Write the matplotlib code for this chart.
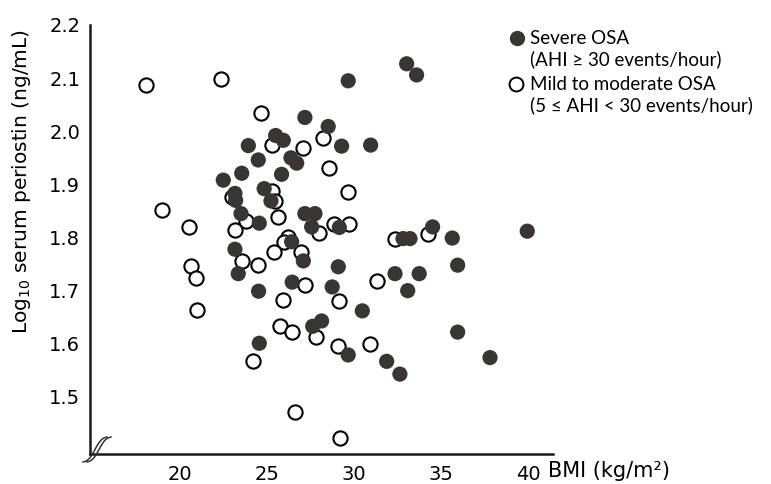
import numpy as np
import matplotlib
matplotlib.use("Agg")
import matplotlib.pyplot as plt
from matplotlib.lines import Line2D

plt.rcParams['font.family'] = ['DejaVu Sans']
plt.rcParams['mathtext.fontset'] = 'dejavusans'

# severe OSA (AHI >= 30), filled markers
severe_bmi = [33.03, 33.60, 29.67, 27.18, 28.52, 25.50, 25.94, 23.93, 29.29, 30.96,
              24.50, 26.38, 26.71, 23.55, 25.84, 22.49, 24.84, 23.16, 23.20, 25.23,
              23.51, 24.56, 27.18, 27.76, 27.57, 29.16, 32.82, 33.22, 34.52, 35.65,
              39.96, 26.42, 27.09, 23.16, 23.35, 29.10, 32.36, 33.75, 35.96, 33.09,
              26.45, 28.75, 24.52, 30.48, 27.63, 28.14, 29.67, 31.88, 32.64, 35.96,
              37.82, 24.56]
severe_post = [2.127, 2.106, 2.095, 2.026, 2.009, 1.992, 1.983, 1.973, 1.972, 1.974,
               1.946, 1.950, 1.940, 1.921, 1.919, 1.908, 1.892, 1.883, 1.870, 1.869,
               1.845, 1.827, 1.845, 1.845, 1.820, 1.819, 1.798, 1.798, 1.820, 1.799,
               1.812, 1.792, 1.756, 1.778, 1.732, 1.745, 1.732, 1.732, 1.748, 1.700,
               1.716, 1.707, 1.699, 1.662, 1.633, 1.643, 1.579, 1.567, 1.543, 1.622,
               1.574, 1.601]

# mild to moderate OSA (5 <= AHI < 30), open markers
mild_bmi = [18.05, 22.34, 24.66, 25.30, 27.09, 28.24, 28.56, 29.64, 25.30, 23.01,
            25.46, 18.99, 23.78, 25.65, 28.85, 29.73, 27.99, 20.53, 23.16, 26.19,
            25.99, 32.36, 34.27, 26.95, 25.42, 23.55, 24.47, 20.63, 20.90, 27.21,
            31.34, 25.92, 29.16, 20.96, 25.75, 26.42, 27.82, 29.10, 30.92, 24.18,
            26.64, 29.20]
mild_post = [2.087, 2.098, 2.034, 1.974, 1.969, 1.987, 1.930, 1.886, 1.887, 1.877,
             1.869, 1.852, 1.831, 1.839, 1.825, 1.825, 1.808, 1.819, 1.814, 1.801,
             1.792, 1.798, 1.806, 1.772, 1.772, 1.756, 1.748, 1.747, 1.724, 1.710,
             1.718, 1.682, 1.681, 1.663, 1.633, 1.622, 1.612, 1.595, 1.599, 1.567,
             1.471, 1.422]

x_ticks = [20, 25, 30, 35, 40]
y_ticks = [1.5, 1.6, 1.7, 1.8, 1.9, 2.0, 2.1, 2.2]

W, H = 771, 484
fig = plt.figure(figsize=(W / 100, H / 100), dpi=100)
ax = fig.add_axes([90 / W, 1 - 454 / H, (553 - 90) / W, (454 - 25) / H])

dark = '#3a3535'
ax.scatter(mild_bmi, mild_post, s=105, facecolor='white', edgecolor='black',
           linewidth=1.5, zorder=2, clip_on=False)
ax.scatter(severe_bmi, severe_post, s=120, facecolor=dark, edgecolor='none',
           zorder=3, clip_on=False)

ax.set_xlim(14.83, 41.44)
ax.set_ylim(1.3926, 2.2)
ax.set_xticks(x_ticks)
ax.set_yticks(y_ticks)
ax.set_yticklabels([f"{v:.1f}" for v in y_ticks])
ax.tick_params(length=0, labelsize=14)
ax.tick_params(axis='x', pad=8)
ax.tick_params(axis='y', pad=7)

for s in ['top', 'right']:
    ax.spines[s].set_visible(False)
for s in ['left', 'bottom']:
    ax.spines[s].set_linewidth(1.8)
    ax.spines[s].set_color('#1a1a1a')

ax.set_ylabel(r'Log$_{10}$ serum periostin (ng/mL)', fontsize=14.5)
ax.yaxis.set_label_coords(-0.123, 0.636)
fig.text(548 / W, 1 - 471 / H, 'BMI (kg/m²)', fontsize=15, va='center', ha='left')

# axis break marks at the corner
t = np.linspace(0, 1, 40)
for off in (0, 4):
    bx = 83 + off + 24 * t
    by = 462 - 25 * t + 3.0 * np.sin(2 * np.pi * t)
    fig.add_artist(Line2D(bx / W, 1 - by / H, transform=fig.transFigure,
                          color='#333333', lw=1.1))

# legend
leg_font = ['Lato', 'DejaVu Sans']
ax.plot([517 / W], [1 - 38 / H], 'o', ms=11, color=dark, mec='none',
        transform=fig.transFigure, clip_on=False)
ax.plot([516 / W], [1 - 84 / H], 'o', ms=10, mfc='white', mec='black', mew=1.4,
        transform=fig.transFigure, clip_on=False)
legend_lines = [('Severe OSA', 38), ('(AHI ≥ 30 events/hour)', 59),
                ('Mild to moderate OSA', 84), ('(5 ≤ AHI < 30 events/hour)', 105)]
for txt, py in legend_lines:
    fig.text(530 / W, 1 - py / H, txt, fontsize=13.5, family=leg_font,
             va='center', ha='left')

fig.savefig('out.png', dpi=100)
